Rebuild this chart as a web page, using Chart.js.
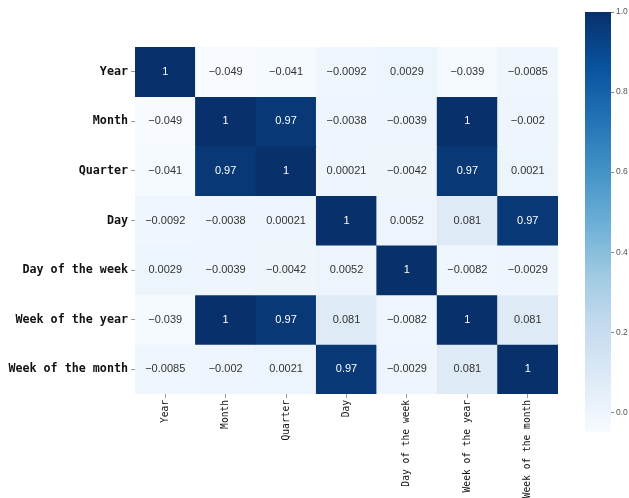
<!DOCTYPE html>
<html>
<head>
<meta charset="utf-8">
<script src="https://cdn.jsdelivr.net/npm/chart.js@4/dist/chart.umd.min.js"></script>
<style>
  html, body { margin: 0; padding: 0; background: #ffffff; }
  #wrap { position: relative; width: 629px; height: 498px; background: #ffffff; }
  #heat { position: absolute; left: 0; top: 0; }
  #cbar { position: absolute; left: 560px; top: 0; }
</style>
</head>
<body>
<div id="wrap">
  <canvas id="heat" width="629" height="498"></canvas>
  <canvas id="cbar" width="69" height="498"></canvas>
</div>
<script>
// Feature names (rows and columns of the correlation matrix)
const features = ['Year', 'Month', 'Quarter', 'Day', 'Day of the week', 'Week of the year', 'Week of the month'];

// Correlation coefficients, one row per feature
const rowYear        = [1, -0.049, -0.041, -0.0092, 0.0029, -0.039, -0.0085];
const rowMonth       = [-0.049, 1, 0.97, -0.0038, -0.0039, 1, -0.002];
const rowQuarter     = [-0.041, 0.97, 1, 0.00021, -0.0042, 0.97, 0.0021];
const rowDay         = [-0.0092, -0.0038, 0.00021, 1, 0.0052, 0.081, 0.97];
const rowDayOfWeek   = [0.0029, -0.0039, -0.0042, 0.0052, 1, -0.0082, -0.0029];
const rowWeekOfYear  = [-0.039, 1, 0.97, 0.081, -0.0082, 1, 0.081];
const rowWeekOfMonth = [-0.0085, -0.002, 0.0021, 0.97, -0.0029, 0.081, 1];

const corrRows = [rowYear, rowMonth, rowQuarter, rowDay, rowDayOfWeek, rowWeekOfYear, rowWeekOfMonth];

// Colour scale range and colour bar tick values
const colorMin = -0.049;
const colorMax = 1.0;
const colorbarTicks = [0.0, 0.2, 0.4, 0.6, 0.8, 1.0];

// "Blues" sequential colour map anchors
const bluesStops = ['#f7fbff', '#deebf7', '#c6dbef', '#9ecae1', '#6baed6', '#4292c6', '#2171b5', '#08519c', '#08306b'];

function hexToRgb(h) {
  return [parseInt(h.slice(1, 3), 16), parseInt(h.slice(3, 5), 16), parseInt(h.slice(5, 7), 16)];
}
const bluesRgb = bluesStops.map(hexToRgb);

function blues(t) {
  t = Math.max(0, Math.min(1, t));
  const pos = t * (bluesRgb.length - 1);
  const i = Math.min(Math.floor(pos), bluesRgb.length - 2);
  const f = pos - i;
  const a = bluesRgb[i], b = bluesRgb[i + 1];
  const c = a.map((v, k) => Math.round(v + (b[k] - v) * f));
  return 'rgb(' + c.join(',') + ')';
}
function norm(v) { return (v - colorMin) / (colorMax - colorMin); }
function fmt(v) { return String(v).replace('-', '\u2212'); }

// One floating-bar dataset per matrix row: each bar spans [row, row + 1]
const heatDatasets = corrRows.map((row, i) => ({
  label: features[i],
  data: features.map(() => [i, i + 1]),
  corr: row,
  backgroundColor: row.map(v => blues(norm(v))),
  borderWidth: 0,
  barPercentage: 1,
  categoryPercentage: 1,
  grouped: false
}));

// Writes each coefficient in the middle of its cell
const cellLabels = {
  id: 'cellLabels',
  afterDatasetsDraw(chart) {
    const ctx = chart.ctx;
    ctx.save();
    ctx.font = '11px "Liberation Sans", Arial, sans-serif';
    ctx.textAlign = 'center';
    ctx.textBaseline = 'middle';
    chart.data.datasets.forEach((ds, i) => {
      const meta = chart.getDatasetMeta(i);
      meta.data.forEach((el, j) => {
        const v = ds.corr[j];
        ctx.fillStyle = norm(v) > 0.5 ? '#ffffff' : '#333333';
        ctx.fillText(fmt(v), el.x, (el.y + el.base) / 2);
      });
    });
    ctx.restore();
  }
};

new Chart(document.getElementById('heat'), {
  type: 'bar',
  data: { labels: features, datasets: heatDatasets },
  plugins: [cellLabels],
  options: {
    responsive: false,
    animation: false,
    devicePixelRatio: 1,
    layout: { padding: { left: 0, top: 47, right: 71, bottom: 0 } },
    plugins: { legend: { display: false }, tooltip: { enabled: false } },
    scales: {
      x: {
        type: 'category',
        offset: true,
        grid: { offset: false, drawOnChartArea: false, drawTicks: true, tickLength: 4, color: '#999999' },
        border: { display: false },
        ticks: {
          autoSkip: false,
          maxRotation: 90,
          minRotation: 90,
          padding: 2,
          color: '#111111',
          font: { family: '"DejaVu Sans Mono", monospace', size: 9.6 }
        },
        afterFit(scale) { scale.height = 104; }
      },
      y: {
        type: 'linear',
        min: 0,
        max: features.length,
        reverse: true,
        grid: { drawOnChartArea: false, drawTicks: true, tickLength: 4, color: '#999999' },
        border: { display: false },
        afterBuildTicks(scale) {
          scale.ticks = features.map((_, i) => ({ value: i + 0.5 }));
        },
        ticks: {
          autoSkip: false,
          padding: 3,
          color: '#111111',
          font: { family: '"DejaVu Sans Mono", monospace', size: 11.7, weight: 'bold' },
          callback: (value, index) => features[index]
        },
        afterFit(scale) { scale.width = 135; }
      }
    }
  }
});

// Colour bar: a single floating bar spanning the colour range, filled with the map
function colorbarFill(context) {
  const chart = context.chart;
  const area = chart.chartArea;
  if (!area) return bluesStops[4];
  const g = chart.ctx.createLinearGradient(0, area.bottom, 0, area.top);
  bluesStops.forEach((c, i) => g.addColorStop(i / (bluesStops.length - 1), c));
  return g;
}

new Chart(document.getElementById('cbar'), {
  type: 'bar',
  data: {
    labels: [''],
    datasets: [{
      data: [[colorMin, colorMax]],
      backgroundColor: colorbarFill,
      borderWidth: 0,
      barPercentage: 1,
      categoryPercentage: 1
    }]
  },
  options: {
    responsive: false,
    animation: false,
    devicePixelRatio: 1,
    layout: { padding: { left: 25, top: 12, right: 0, bottom: 66 } },
    plugins: { legend: { display: false }, tooltip: { enabled: false } },
    scales: {
      x: { display: false },
      y: {
        position: 'right',
        min: colorMin,
        max: colorMax,
        grid: { drawOnChartArea: false, drawTicks: true, tickLength: 3, color: '#888888' },
        border: { display: false },
        afterBuildTicks(scale) {
          scale.ticks = colorbarTicks.map(v => ({ value: v }));
        },
        ticks: {
          autoSkip: false,
          padding: 2,
          color: '#555555',
          font: { family: '"Liberation Sans", Arial, sans-serif', size: 8.5 },
          callback: v => v.toFixed(1)
        },
        afterFit(scale) { scale.width = 18; }
      }
    }
  }
});
</script>
</body>
</html>
